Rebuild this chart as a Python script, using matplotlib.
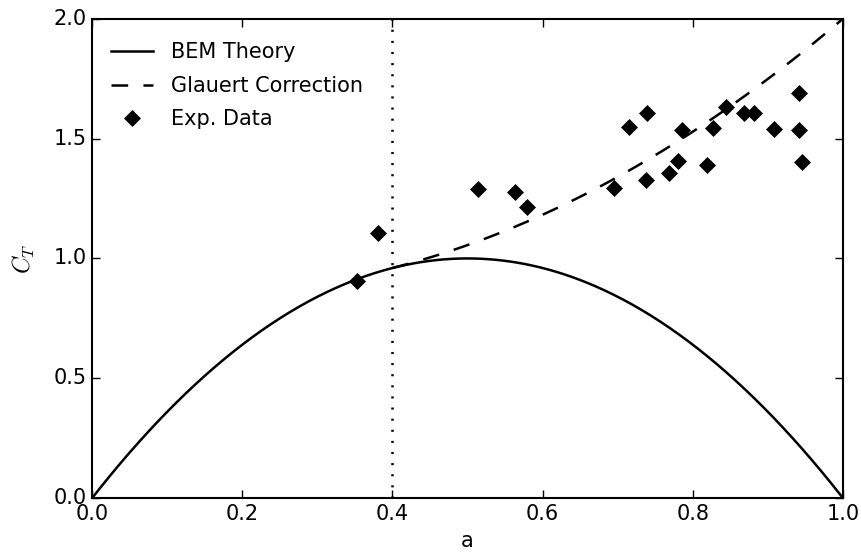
import numpy as np
import matplotlib
matplotlib.use('Agg')
import matplotlib.pyplot as plt

plt.style.use('classic')
plt.rc('font', family='DejaVu Sans', size=15)
plt.rc('mathtext', fontset='cm')

# Experimental thrust coefficient data
a_exp = [0.3525, 0.3804, 0.5144, 0.5632, 0.5796, 0.6957, 0.7150, 0.7394,
         0.7373, 0.7679, 0.7799, 0.7852, 0.8185, 0.8265, 0.8442, 0.8686,
         0.8819, 0.9081, 0.9414, 0.9414, 0.9450]
ct_exp = [0.907, 1.105, 1.291, 1.278, 1.216, 1.296, 1.550, 1.609,
          1.328, 1.356, 1.408, 1.537, 1.389, 1.544, 1.631, 1.606,
          1.606, 1.541, 1.692, 1.534, 1.402]

# Glauert empirical correction, valid above a_c
a_c = 0.4
g0, g1, g2, g3 = 0.889, 0.0203, 0.143, 0.6427

a = np.linspace(0.0, 1.0, 400)
ct_bem = 4.0 * a * (1.0 - a)

ag = np.linspace(a_c, 1.0, 200)
ct_glauert = g0 - (g1 - (ag - g2)**2) / g3

fig = plt.figure(figsize=(8.61, 5.54), dpi=100)
fig.patch.set_facecolor('white')
ax = fig.add_axes([0.107, 0.101, 0.872, 0.865])

ax.plot(a, ct_bem, 'k-', lw=1.8, label='BEM Theory')
ax.plot(ag, ct_glauert, 'k--', lw=1.8, dashes=(12, 11), label='Glauert Correction')
ax.plot(a_exp, ct_exp, 'kD', ms=8.5, mec='k', label='Exp. Data')
ax.axvline(a_c, color='k', lw=1.8, dashes=(1.5, 6.5))

ax.set_xlim(0, 1)
ax.set_ylim(0, 2)
ax.set_xticks(np.arange(0, 1.01, 0.2))
ax.set_yticks(np.arange(0, 2.01, 0.5))
ax.set_xlabel('a')
ax.set_ylabel(r'$C_T$', fontsize=17, labelpad=12)
for sp in ax.spines.values():
    sp.set_linewidth(1.5)
ax.tick_params(direction='in', length=6, width=1, top=True, right=True)

ax.legend(loc='upper left', bbox_to_anchor=(0.0, 0.99), frameon=False,
          numpoints=1, fontsize=15, handlelength=2.0, handletextpad=0.9,
          labelspacing=0.65, borderaxespad=0.5)

fig.savefig('out.png', dpi=100, facecolor='white')
